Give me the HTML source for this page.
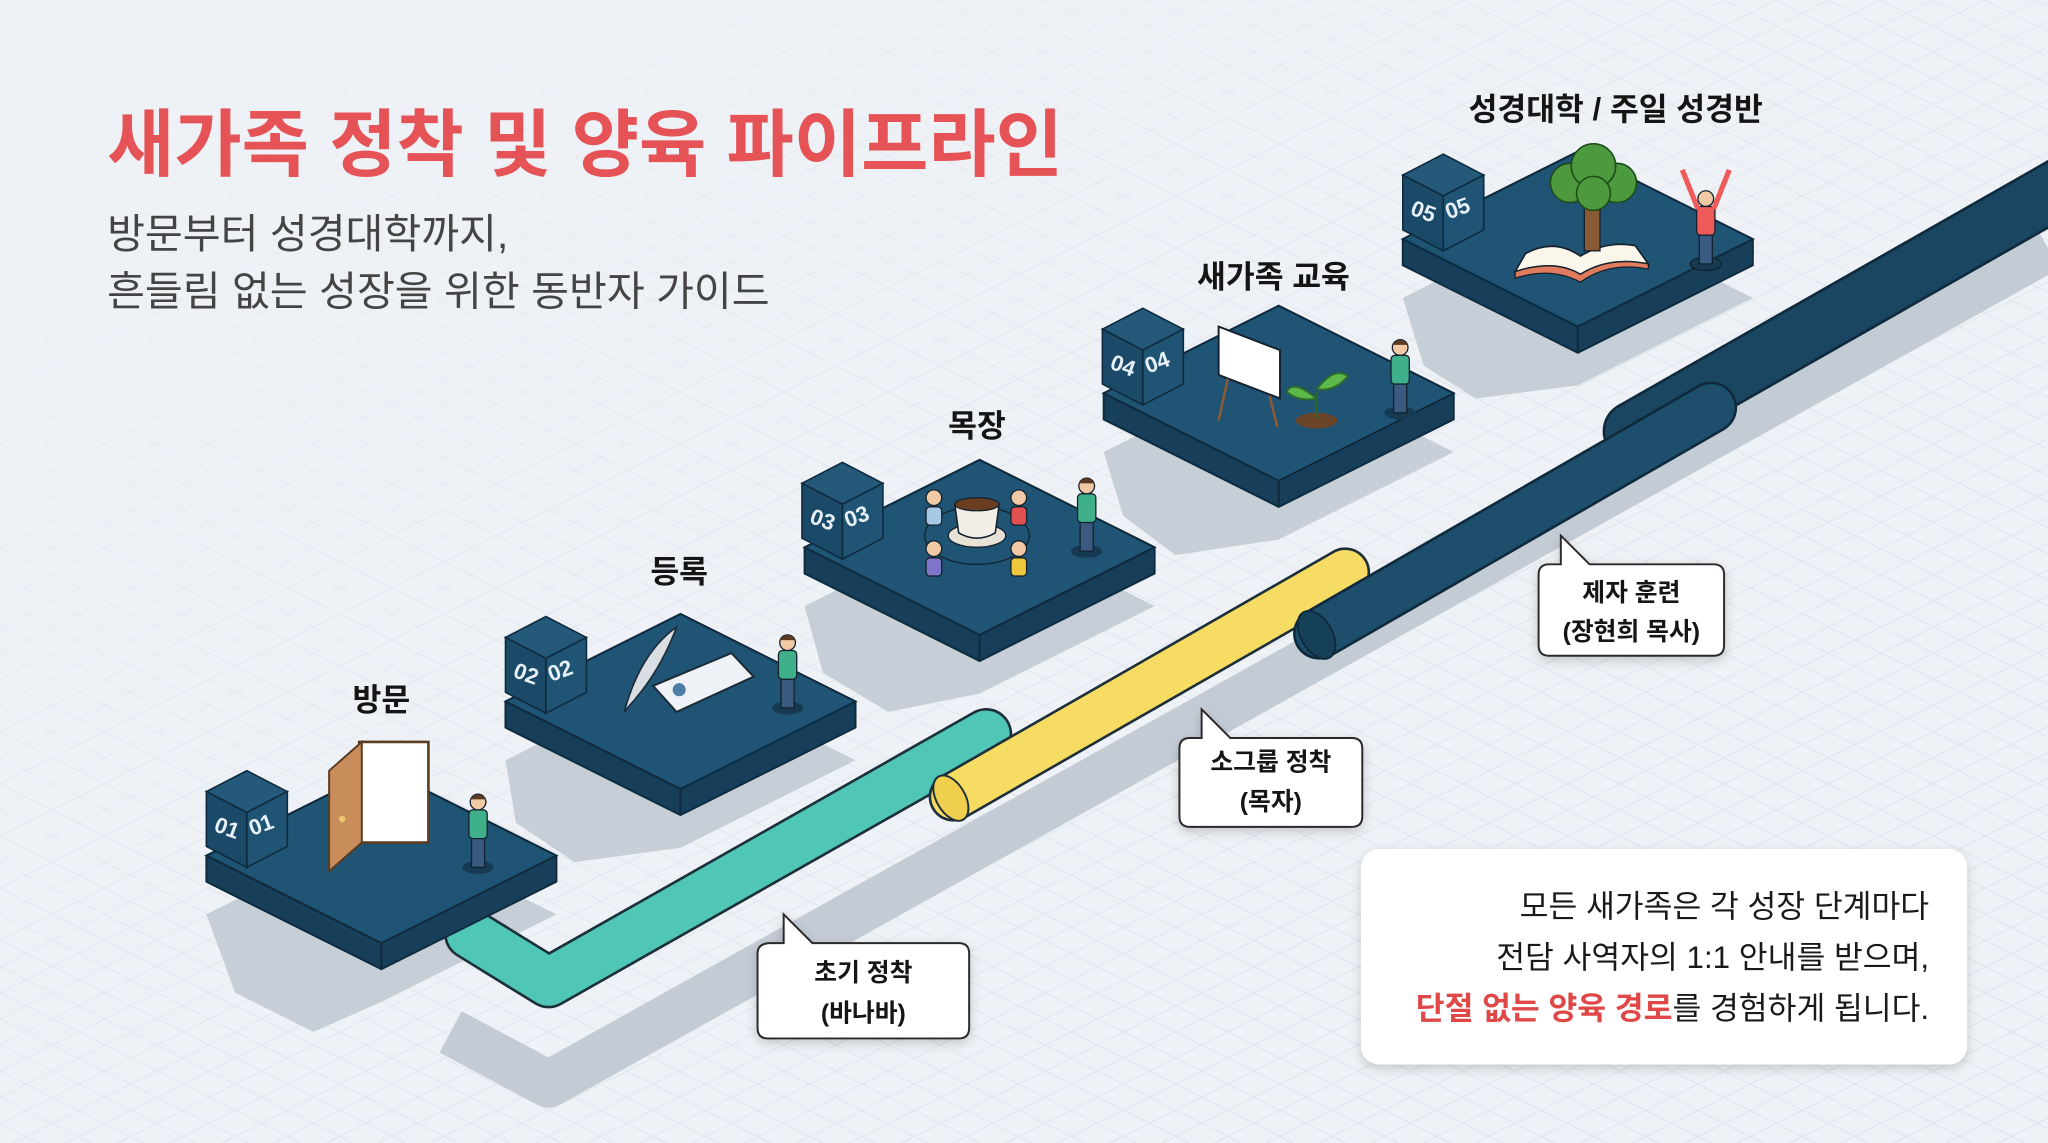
<!DOCTYPE html>
<html><head><meta charset="utf-8"><style>
html,body{margin:0;padding:0;background:#eef2f6;}
svg{display:block;}
text{font-family:"Liberation Sans","Noto Sans CJK KR",sans-serif;}
</style></head><body>
<svg width="2048" height="1143" viewBox="0 0 1568 875" xmlns="http://www.w3.org/2000/svg">
<defs>
<pattern id="grid" width="40" height="20" patternUnits="userSpaceOnUse">
<path d="M0 0 L40 20 M40 0 L0 20" stroke="#dde3ea" stroke-width="0.8" fill="none"/>
</pattern>
<linearGradient id="fade" x1="0" y1="0" x2="1" y2="1">
<stop offset="0" stop-color="#eef2f6" stop-opacity="1"/>
<stop offset="0.45" stop-color="#eef2f6" stop-opacity="0.3"/>
<stop offset="1" stop-color="#eef2f6" stop-opacity="0"/>
</linearGradient>
<filter id="sh" x="-10%" y="-10%" width="120%" height="130%"><feDropShadow dx="0" dy="3" stdDeviation="4" flood-color="#000" flood-opacity="0.18"/></filter>
<g id="plat">
<polygon points="-134,0 0,-67 134,0 134,20 0,87 -134,20" fill="#173f5a" stroke="#0e2a3d" stroke-width="1.5"/>
<polygon points="-134,0 0,-67 134,0 0,67" fill="#1f5475" stroke="#0e2a3d" stroke-width="1.5"/>
<line x1="0" y1="67" x2="0" y2="87" stroke="#0e2a3d" stroke-width="1.5"/>
</g>
<g id="cube">
<polygon points="-31,-16 0,-32 31,-16 0,0" fill="#24597a" stroke="#0e2a3d" stroke-width="1.2"/>
<polygon points="-31,-16 0,0 0,42 -31,26" fill="#1b4a68" stroke="#0e2a3d" stroke-width="1.2"/>
<polygon points="0,0 31,-16 31,26 0,42" fill="#1f5475" stroke="#0e2a3d" stroke-width="1.2"/>
</g>
<g id="person">
<ellipse cx="0" cy="2" rx="12" ry="5" fill="#163a52"/>
<rect x="-5" y="-22" width="10" height="24" fill="#3a5a80" stroke="#13222e" stroke-width="1"/>
<rect x="-7" y="-42" width="14" height="22" rx="3" fill="#3fb08a" stroke="#13222e" stroke-width="1"/>
<circle cx="0" cy="-48" r="6" fill="#f1c9a5" stroke="#13222e" stroke-width="1"/>
<path d="M-6 -50 Q0 -58 6 -50" fill="#5a3a22"/>
</g>
</defs>
<rect width="1568" height="875" fill="#eef2f6"/>
<rect width="1568" height="875" fill="url(#grid)"/>
<rect width="1568" height="875" fill="url(#fade)"/>

<g fill="none" stroke="#c3cbd4" stroke-width="36" stroke-linecap="butt" stroke-linejoin="round">
<path d="M345 790 L420 830 L1568 190"/>
</g>
<g fill="#c6ced7">
<polygon points="158,700 292,633 426,700 292,767 240,790 180,760"/>
<polygon points="387,582 521,515 655,582 521,649 440,660 395,630"/>
<polygon points="616,464 750,397 884,464 750,531 680,545 630,515"/>
<polygon points="845,346 979,279 1113,346 979,413 900,425 860,395"/>
<polygon points="1074,228 1208,161 1342,228 1208,295 1130,305 1090,280"/>
</g>

<path d="M360 715 L420 752 L755 562" fill="none" stroke="#1c2f3a" stroke-width="40" stroke-linecap="round" stroke-linejoin="round"/>
<path d="M360 715 L420 752 L755 562" fill="none" stroke="#4fc6b6" stroke-width="36" stroke-linecap="round" stroke-linejoin="round"/>
<line x1="730" y1="610" x2="1030" y2="438" stroke="#1c2f3a" stroke-width="38" stroke-linecap="round"/>
<line x1="730" y1="610" x2="1030" y2="438" stroke="#f7dc63" stroke-width="34" stroke-linecap="round"/>
<ellipse cx="728" cy="611" rx="11" ry="19" fill="#f0cf4e" stroke="#1c2f3a" stroke-width="1.5" transform="rotate(-30 728 611)"/>
<line x1="1250" y1="330" x2="1580" y2="142" stroke="#0f2a3c" stroke-width="46" stroke-linecap="round"/>
<line x1="1250" y1="330" x2="1580" y2="142" stroke="#1a4662" stroke-width="42" stroke-linecap="round"/>
<line x1="1010" y1="485" x2="1310" y2="312" stroke="#0f2a3c" stroke-width="40" stroke-linecap="round"/>
<line x1="1010" y1="485" x2="1310" y2="312" stroke="#1d4f6c" stroke-width="36" stroke-linecap="round"/>
<ellipse cx="1008" cy="486" rx="12" ry="20" fill="#163f58" stroke="#0f2a3c" stroke-width="1.5" transform="rotate(-30 1008 486)"/>

<use href="#plat" x="292" y="655"/>
<use href="#plat" x="521" y="537"/>
<use href="#plat" x="750" y="419"/>
<use href="#plat" x="979" y="301"/>
<use href="#plat" x="1208" y="183"/>

<g font-size="17" fill="#e6f0f6" font-weight="bold">
<use href="#cube" x="189" y="622"/><text x="163" y="636" transform="rotate(20 163 636)">01</text><text x="193" y="640" transform="rotate(-20 193 640)">01</text>
<use href="#cube" x="418" y="504"/><text x="392" y="518" transform="rotate(20 392 518)">02</text><text x="422" y="522" transform="rotate(-20 422 522)">02</text>
<use href="#cube" x="645" y="386"/><text x="619" y="400" transform="rotate(20 619 400)">03</text><text x="649" y="404" transform="rotate(-20 649 404)">03</text>
<use href="#cube" x="875" y="268"/><text x="849" y="282" transform="rotate(20 849 282)">04</text><text x="879" y="286" transform="rotate(-20 879 286)">04</text>
<use href="#cube" x="1105" y="150"/><text x="1079" y="164" transform="rotate(20 1079 164)">05</text><text x="1109" y="168" transform="rotate(-20 1109 168)">05</text>
</g>

<polygon points="275,568 328,568 328,645 275,645" fill="#fff" stroke="#5b3b22" stroke-width="2"/>
<polygon points="252,590 277,568 277,645 252,667" fill="#c98d5c" stroke="#5b3b22" stroke-width="1.5"/>
<circle cx="262" cy="627" r="2.5" fill="#e9c46a"/>
<use href="#person" x="366" y="662"/>
<polygon points="500,525 560,500 577,518 518,545" fill="#eef2f6" stroke="#1b2a36" stroke-width="1.5"/>
<circle cx="520" cy="528" r="5" fill="#4d7fa6"/>
<path d="M478 545 Q490 500 518 480 Q505 515 482 540 Z" fill="#d9dee4" stroke="#1b2a36" stroke-width="1.2"/>
<use href="#person" x="603" y="540"/>
<ellipse cx="748" cy="410" rx="40" ry="22" fill="none" stroke="#13222e" stroke-width="1"/>
<ellipse cx="748" cy="410" rx="22" ry="9" fill="#e8e2d6" stroke="#13222e" stroke-width="1"/>
<path d="M731 386 L765 386 L762 408 Q748 416 734 408 Z" fill="#f4efe6" stroke="#13222e" stroke-width="1.2"/>
<ellipse cx="748" cy="386" rx="17" ry="5" fill="#6b3d20" stroke="#13222e" stroke-width="1"/>
<g stroke="#13222e" stroke-width="1">
<circle cx="715" cy="381" r="6" fill="#f1c9a5"/><rect x="709" y="388" width="12" height="14" rx="3" fill="#a9c8e6"/>
<circle cx="780" cy="381" r="6" fill="#f1c9a5"/><rect x="774" y="388" width="12" height="14" rx="3" fill="#e05050"/>
<circle cx="715" cy="420" r="6" fill="#f1c9a5"/><rect x="709" y="427" width="12" height="14" rx="3" fill="#7e76c8"/>
<circle cx="780" cy="420" r="6" fill="#f1c9a5"/><rect x="774" y="427" width="12" height="14" rx="3" fill="#f0c63c"/>
</g>
<use href="#person" x="832" y="420"/>
<polygon points="933,250 980,268 980,305 933,287" fill="#fff" stroke="#13222e" stroke-width="1.5"/>
<line x1="940" y1="290" x2="933" y2="322" stroke="#8a5a34" stroke-width="2"/>
<line x1="972" y1="303" x2="978" y2="327" stroke="#8a5a34" stroke-width="2"/>
<ellipse cx="1008" cy="322" rx="16" ry="6" fill="#6b4528"/>
<path d="M1008 320 L1008 300 M1008 305 Q990 290 985 300 Q995 308 1008 305 M1008 298 Q1022 280 1032 288 Q1022 300 1008 298" stroke="#2e6b2a" stroke-width="1.5" fill="#5cb84a"/>
<use href="#person" x="1072" y="314"/>
<path d="M1160 208 Q1190 198 1210 210 Q1232 196 1262 202 L1252 188 Q1230 184 1210 196 Q1190 182 1168 194 Z" fill="#fbf6ea" stroke="#13222e" stroke-width="1.3"/>
<path d="M1160 208 Q1190 198 1210 210 Q1232 196 1262 202 L1262 206 Q1232 200 1210 216 Q1188 204 1160 213 Z" fill="#e07b5e" stroke="#13222e" stroke-width="1"/>
<rect x="1213" y="150" width="12" height="42" fill="#8a5a34" stroke="#13222e" stroke-width="1"/>
<g fill="#4d9a3e" stroke="#1e4a1a" stroke-width="1.2">
<circle cx="1202" cy="140" r="15"/><circle cx="1238" cy="140" r="15"/><circle cx="1220" cy="127" r="17"/><circle cx="1220" cy="148" r="13"/>
</g>
<g transform="translate(1306 200)" stroke="#13222e" stroke-width="1">
<ellipse cx="0" cy="2" rx="12" ry="5" fill="#163a52"/>
<rect x="-5" y="-22" width="10" height="24" fill="#3a5a80"/>
<rect x="-7" y="-42" width="14" height="22" rx="3" fill="#ef5b5b"/>
<path d="M-6 -40 L-18 -70 M6 -40 L18 -70" stroke="#ef5b5b" stroke-width="4"/>
<circle cx="0" cy="-48" r="6" fill="#f1c9a5"/>
</g>

<g font-size="24" font-weight="bold" fill="#151515" text-anchor="middle">
<text x="292" y="544">방문</text>
<text x="520" y="446">등록</text>
<text x="748" y="334">목장</text>
<text x="975" y="220">새가족 교육</text>
<text x="1237" y="92">성경대학 / 주일 성경반</text>
</g>

<g filter="url(#sh)" fill="#fff" stroke="#2a2a2a" stroke-width="1.5">
<path d="M590 722 L600 722 L600 700 L622 722 L734 722 Q742 722 742 730 L742 787 Q742 795 734 795 L588 795 Q580 795 580 787 L580 730 Q580 722 590 722 Z"/>
<path d="M911 565 L920 565 L920 543 L942 565 L1035 565 Q1043 565 1043 573 L1043 625 Q1043 633 1035 633 L911 633 Q903 633 903 625 L903 573 Q903 565 911 565 Z"/>
<path d="M1186 432 L1195 432 L1195 410 L1217 432 L1312 432 Q1320 432 1320 440 L1320 494 Q1320 502 1312 502 L1186 502 Q1178 502 1178 494 L1178 440 Q1178 432 1186 432 Z"/>
</g>
<g font-size="19" font-weight="bold" fill="#151515" text-anchor="middle">
<text x="661" y="751">초기 정착</text><text x="661" y="782">(바나바)</text>
<text x="973" y="590">소그룹 정착</text><text x="973" y="620">(목자)</text>
<text x="1249" y="460">제자 훈련</text><text x="1249" y="490">(장현희 목사)</text>
</g>

<rect x="1042" y="650" width="464" height="165" rx="14" fill="#fff" filter="url(#sh)"/>
<g font-size="24" fill="#1a1a1a" text-anchor="end">
<text x="1477" y="702">모든 새가족은 각 성장 단계마다</text>
<text x="1477" y="741">전담 사역자의 1:1 안내를 받으며,</text>
<text x="1477" y="780"><tspan fill="#e04848" font-weight="bold">단절 없는 양육 경로</tspan>를 경험하게 됩니다.</text>
</g>

<text x="82" y="130" font-size="56" font-weight="bold" fill="#e65356">새가족 정착 및 양육 파이프라인</text>
<g font-size="31.5" fill="#444">
<text x="82" y="190">방문부터 성경대학까지,</text>
<text x="82" y="234">흔들림 없는 성장을 위한 동반자 가이드</text>
</g>
</svg>
</body></html>
